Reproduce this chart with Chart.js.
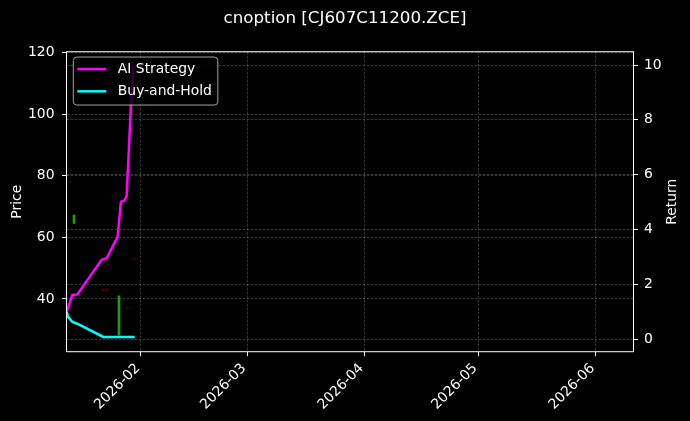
<!DOCTYPE html>
<html lang="en">
<head>
<meta charset="UTF-8">
<title>cnoption [CJ607C11200.ZCE]</title>
<script src="https://cdn.jsdelivr.net/npm/chart.js@4.4.0/dist/chart.umd.min.js"></script>
<style>
  html, body { margin: 0; padding: 0; background: #000; }
  .plot-container { width: 690px; height: 421px; position: relative; }
</style>
</head>
<body>
<div class="plot-container"><canvas id="plot"></canvas></div>
<script>
  // x values: day of 2026, Jan 1 = 0
  const monthTicks = [31, 59, 90, 120, 151];
  const monthLabels = ['2026-02', '2026-03', '2026-04', '2026-05', '2026-06'];
  const xMin = 11.35, xMax = 161.0;

  const priceTicks = [40, 60, 80, 100, 120];
  const returnTicks = [0, 2, 4, 6, 8, 10];

  const aiDays = [11.43, 12.46, 12.88, 14.2, 20.63, 21.95, 24.85, 25.72, 26.78, 27.23, 28.49, 29.05];
  const aiReturn = [1.00, 1.43, 1.61, 1.63, 2.89, 2.95, 3.74, 5.01, 5.07, 5.25, 8.9, 9.98];

  const bhDays = [11.43, 11.75, 12.88, 14.04, 21.05, 29.34];
  const bhReturn = [1.00, 0.81, 0.63, 0.57, 0.08, 0.08];

  const candleDays = [12.27, 13.33, 21.05, 22.11, 25.2, 27.38, 29.15];
  const candleLow = [77.7, 64.5, 42.6, 42.6, 28.3, 36.7, 52.7];
  const candleHigh = [78.2, 67.2, 43.2, 43.2, 41.0, 37.2, 53.2];
  const candleUp = [false, true, false, false, true, false, false];

  const FONT = 'DejaVu Sans';
  const gridColor = 'rgba(255,255,255,0.3)';

  const pts = (xs, ys) => xs.map((x, i) => ({ x: x, y: ys[i] }));

  const data = {
    datasets: [
      {
        type: 'line',
        label: 'AI Strategy',
        data: pts(aiDays, aiReturn),
        borderColor: '#ff00ff',
        backgroundColor: '#ff00ff',
        borderWidth: 2.5,
        pointRadius: 0,
        tension: 0,
        yAxisID: 'y1',
        order: 0
      },
      {
        type: 'line',
        label: 'Buy-and-Hold',
        data: pts(bhDays, bhReturn),
        borderColor: '#00ffff',
        backgroundColor: '#00ffff',
        borderWidth: 2.5,
        pointRadius: 0,
        tension: 0,
        yAxisID: 'y1',
        order: 0
      },
      {
        type: 'bar',
        label: 'candles',
        data: candleDays.map((d, i) => ({ x: d, y: [candleLow[i], candleHigh[i]] })),
        backgroundColor: candleUp.map(u => u ? '#16a016' : 'rgba(170,0,0,0.45)'),
        borderWidth: 0,
        barThickness: 2,
        yAxisID: 'y',
        order: 1
      }
    ]
  };

  const frameAndLegend = {
    id: 'frameAndLegend',
    afterDraw(chart) {
      const ctx = chart.ctx;
      const a = chart.chartArea;
      ctx.save();
      // spines
      ctx.strokeStyle = '#ffffff';
      ctx.lineWidth = 1;
      ctx.strokeRect(a.left, a.top, a.right - a.left, a.bottom - a.top);

      // right axis title
      ctx.fillStyle = '#ffffff';
      ctx.font = '13.9px "' + FONT + '"';
      ctx.textAlign = 'center';
      ctx.textBaseline = 'middle';
      ctx.translate(672.5, (a.top + a.bottom) / 2);
      ctx.rotate(-Math.PI / 2);
      ctx.fillText('Return', 0, 0);
      ctx.restore();

      // legend
      const items = chart.data.datasets.filter(d => d.type === 'line');
      const x0 = a.left + 6.8, y0 = a.top + 5.3, w = 144.5, h = 48;
      ctx.save();
      ctx.beginPath();
      ctx.roundRect(x0, y0, w, h, 3.5);
      ctx.fillStyle = 'rgba(0,0,0,0.8)';
      ctx.fill();
      ctx.strokeStyle = 'rgba(204,204,204,0.8)';
      ctx.lineWidth = 1;
      ctx.stroke();
      ctx.font = '13.9px "' + FONT + '"';
      ctx.textAlign = 'left';
      ctx.textBaseline = 'middle';
      items.forEach((ds, i) => {
        const cy = y0 + 12 + i * 22.3;
        ctx.strokeStyle = ds.borderColor;
        ctx.lineWidth = 2.5;
        ctx.beginPath();
        ctx.moveTo(x0 + 4, cy);
        ctx.lineTo(x0 + 33, cy);
        ctx.stroke();
        ctx.fillStyle = '#ffffff';
        ctx.fillText(ds.label, x0 + 44.5, cy);
      });
      ctx.restore();
    }
  };

  const gridOpts = {
    offset: false,
    color: gridColor,
    lineWidth: 0.7,
    tickColor: '#ffffff',
    tickLength: 4.5,
    tickWidth: 1,
    tickBorderDash: []
  };
  const borderOpts = { display: false, dash: [2.6, 1.4] };

  const config = {
    data,
    options: {
      responsive: true,
      maintainAspectRatio: false,
      animation: false,
      layout: { padding: 0 },
      plugins: {
        legend: { display: false },
        tooltip: { enabled: false },
        title: {
          display: true,
          text: 'cnoption [CJ607C11200.ZCE]',
          color: '#ffffff',
          font: { family: FONT, size: 16.7, weight: 'normal' },
          padding: { top: 8.4, bottom: 23.3 }
        }
      },
      scales: {
        x: {
          type: 'linear',
          min: xMin,
          max: xMax,
          offset: false,
          afterBuildTicks: (s) => { s.ticks = monthTicks.map(v => ({ value: v })); },
          afterFit: (s) => { s.height = 421 - 351.7; },
          ticks: {
            color: '#ffffff',
            font: { family: FONT, size: 13.9 },
            autoSkip: false,
            minRotation: 45,
            maxRotation: 45,
            padding: 4,
            labelOffset: -3,
            callback: (v) => monthLabels[monthTicks.indexOf(v)]
          },
          grid: gridOpts,
          border: borderOpts
        },
        y: {
          type: 'linear',
          position: 'left',
          min: 22.9,
          max: 120.2,
          afterBuildTicks: (s) => { s.ticks = priceTicks.map(v => ({ value: v })); },
          afterFit: (s) => { s.width = 66.5; },
          ticks: {
            color: '#ffffff',
            font: { family: FONT, size: 13.9 },
            autoSkip: false,
            padding: 7.5
          },
          grid: gridOpts,
          border: borderOpts,
          title: {
            display: true,
            text: 'Price',
            color: '#ffffff',
            font: { family: FONT, size: 13.9 },
            padding: { top: 8.9, bottom: 0 }
          }
        },
        y1: {
          type: 'linear',
          position: 'right',
          min: -0.46,
          max: 10.485,
          afterBuildTicks: (s) => { s.ticks = returnTicks.map(v => ({ value: v })); },
          afterFit: (s) => { s.width = 690 - 633.5; },
          ticks: {
            color: '#ffffff',
            font: { family: FONT, size: 13.9 },
            autoSkip: false,
            padding: 6
          },
          grid: gridOpts,
          border: borderOpts
        }
      }
    },
    plugins: [frameAndLegend]
  };

  Chart.defaults.font.family = FONT;
  const plot = new Chart(document.getElementById('plot'), config);
</script>
</body>
</html>
